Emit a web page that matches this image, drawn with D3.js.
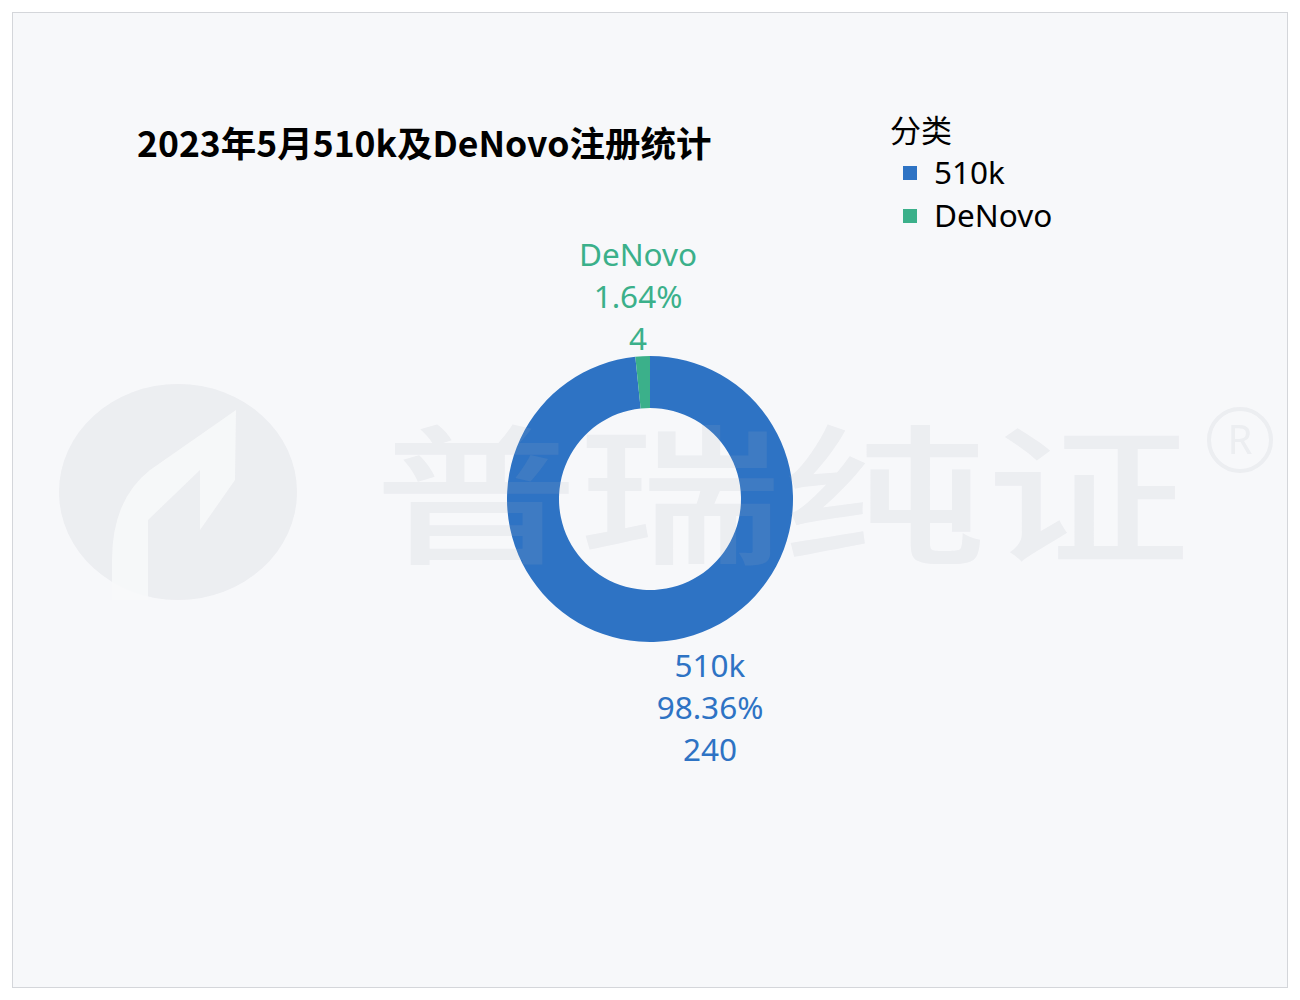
<!DOCTYPE html>
<html><head><meta charset="utf-8">
<script src="https://cdn.jsdelivr.net/npm/d3@7"></script>
<style>
html,body{margin:0;padding:0;background:#fff;}
svg{display:block;font-family:"Noto Sans","Noto Sans CJK SC",sans-serif;}
</style></head>
<body><svg id="c" width="1300" height="1000"></svg>
<script>
const categories = ["510k", "DeNovo"];
const values = [240, 4];
const percentLabels = ["98.36%", "1.64%"];
const colors = ["#2e73c4", "#3bb08a"];
const title = "2023年5月510k及DeNovo注册统计";
const legendTitle = "分类";

const svg = d3.select("#c");
svg.append("rect").attr("x",12.5).attr("y",12.5).attr("width",1275).attr("height",975)
  .attr("fill","#f7f8fa").attr("stroke","#d4d6da").attr("stroke-width",1);

const cx = 650, cy = 499, rOut = 143, rIn = 91;
const pie = d3.pie().sort(null).value(d => d)(values);
const arc = d3.arc().innerRadius(rIn).outerRadius(rOut);
const g = svg.append("g").attr("transform",`translate(${cx},${cy})`);
g.selectAll("path.slice").data(pie).join("path").attr("class","slice")
  .attr("d",arc).attr("fill",(d,i)=>colors[i]);

// labels
const labelPos = [[710, 666], [638, 255]];
pie.forEach((d,i)=>{
  const t = svg.append("text").attr("text-anchor","middle").attr("fill",colors[i])
    .attr("font-size",31.5);
  const lines = [categories[i], percentLabels[i], String(values[i])];
  lines.forEach((s,k)=>{
    t.append("tspan").attr("x",labelPos[i][0]).attr("y",labelPos[i][1]+k*42)
      .attr("dy","0.35em").text(s);
  });
});

// title
svg.append("text").attr("x",137).attr("y",145).attr("dy","0.35em")
  .attr("font-size",35.5).attr("font-weight","bold").attr("fill","#000")
  .attr("font-family","'Noto Sans CJK SC','Noto Sans',sans-serif").text(title);

// legend
svg.append("text").attr("x",890).attr("y",131).attr("dy","0.35em")
  .attr("font-size",31).attr("fill","#000")
  .attr("font-family","'Noto Sans CJK SC',sans-serif").text(legendTitle);
categories.forEach((c,i)=>{
  const y = 173 + i*43;
  svg.append("rect").attr("x",903).attr("y",y-7).attr("width",14).attr("height",14).attr("fill",colors[i]);
  svg.append("text").attr("x",934).attr("y",y).attr("dy","0.35em").attr("font-size",31.5)
    .attr("fill","#000").text(c);
});

// watermark
const wm = svg.append("g").attr("opacity",0.14).attr("fill","#a9aebb").attr("pointer-events","none");
wm.append("ellipse").attr("cx",178).attr("cy",492).attr("rx",119).attr("ry",108);
wm.append("text").attr("x",0).attr("y",0)
  .attr("transform","translate(374,552) scale(1.36,1)")
  .attr("font-size",150).attr("font-weight",500)
  .attr("font-family","'Noto Sans CJK SC',sans-serif").text("普瑞纯证");
wm.append("circle").attr("cx",1240).attr("cy",440).attr("r",31).attr("fill","none")
  .attr("stroke","#a9aebb").attr("stroke-width",4);
wm.append("text").attr("x",1240).attr("y",440).attr("dy","0.35em").attr("text-anchor","middle")
  .attr("font-size",40).text("R");
// leaf cutout in logo
svg.append("path").attr("fill","#f7f8fa").attr("opacity",0.9)
  .attr("d","M148,600 L148,520 L200,470 L200,530 L235,480 L236,410 L150,470 Q112,500 112,560 L112,600 Z");
</script></body></html>
